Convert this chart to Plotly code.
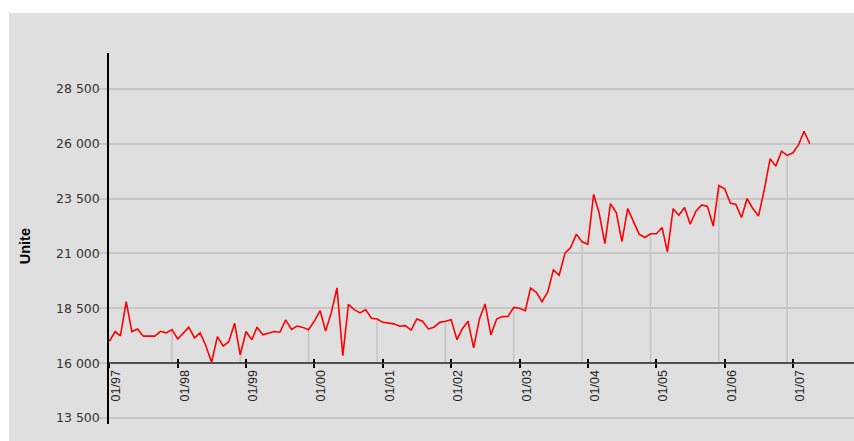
import pandas as pd
import plotly.graph_objects as go

# ---- data (monthly, Jan 1997 - Apr 2007) ----
start_month = "1997-01-01"
values = [
    17000, 17440, 17240, 18800, 17440, 17560, 17230, 17230, 17230, 17450, 17380, 17530,   # 1997
    17100, 17380, 17640, 17150, 17380, 16780, 16030, 17210, 16780, 16980, 17820, 16380,   # 1998
    17440, 17070, 17640, 17290, 17370, 17440, 17410, 17970, 17540, 17690, 17630, 17520,   # 1999
    17920, 18390, 17460, 18320, 19430, 16340, 18680, 18440, 18290, 18440, 18050, 18010,   # 2000
    17860, 17830, 17790, 17680, 17710, 17510, 18010, 17910, 17560, 17640, 17860, 17910,   # 2001
    17980, 17070, 17560, 17910, 16700, 18010, 18700, 17290, 18010, 18120, 18130, 18540,   # 2002
    18500, 18390, 19420, 19230, 18800, 19250, 20250, 20010, 21010, 21270, 21880, 21530,   # 2003
    21420, 23690, 22860, 21450, 23270, 22860, 21540, 23040, 22410, 21880, 21730, 21900,   # 2004
    21900, 22180, 21070, 23040, 22740, 23090, 22330, 22940, 23210, 23140, 22250, 24100,   # 2005
    23950, 23290, 23240, 22640, 23500, 23040, 22710, 23920, 25320, 24980, 25660, 25470,   # 2006
    25590, 25970, 26570, 26000,                                                           # 2007
]
months = pd.date_range(start_month, periods=len(values), freq="MS")

y_tick_values = [13500, 16000, 18500, 21000, 23500, 26000, 28500]
y_tick_labels = ["13 500", "16 000", "18 500", "21 000", "23 500", "26 000", "28 500"]
axis_cross = 16000
y_range = [13227, 30136]
x_range = ["1996-12-30", "2007-11-23"]
y_title = "Unite"

# ---- drop lines at each December point ----
drop_x, drop_y = [], []
for d, v in zip(months, values):
    if d.month == 12:
        drop_x += [d, d, None]
        drop_y += [v, axis_cross, None]

fig = go.Figure()
fig.add_trace(go.Scatter(x=drop_x, y=drop_y, mode="lines",
                         line=dict(color="#c4c4c4", width=1.5),
                         hoverinfo="skip", showlegend=False))
fig.add_trace(go.Scatter(x=months, y=values, mode="lines",
                         line=dict(color="#ff0000", width=1.6),
                         showlegend=False))
# invisible helper trace so the overlay axis (upper half of crossing ticks) is drawn
fig.add_trace(go.Scatter(x=[months[0]], y=[values[0]], xaxis="x2", mode="markers",
                         marker=dict(opacity=0), hoverinfo="skip", showlegend=False))

W, H = 854, 441
L, R, T, B = 109, 0, 53, 16.5
pw, ph = W - L - R, H - T - B

def px_x(p):
    return (p - L) / pw

def px_y(p):
    return (H - B - p) / ph

cross_pos = (axis_cross - y_range[0]) / (y_range[1] - y_range[0])

common_x = dict(
    type="date", range=x_range, anchor="free", position=cross_pos,
    showgrid=False, zeroline=False,
    tick0="1997-01-01", dtick="M12", tickwidth=1.5, tickcolor="#000000",
)

fig.update_layout(
    width=W, height=H,
    margin=dict(l=L, r=R, t=T, b=B, pad=0),
    paper_bgcolor="#dfdfdf",
    plot_bgcolor="#dfdfdf",
    hovermode=False,
    xaxis=dict(
        **common_x,
        showline=True, linecolor="#505050", linewidth=2,
        ticks="outside", ticklen=4,
        tickformat="%m/%y",
        tickangle=-90, ticklabelshift=7, ticklabelstandoff=-3,
        tickfont=dict(family="Liberation Sans, Arial", size=12.5, color="#222222"),
    ),
    xaxis2=dict(
        **common_x,
        overlaying="x", matches="x", side="bottom",
        showline=False, ticks="inside", ticklen=4, showticklabels=False,
    ),
    yaxis=dict(
        range=y_range,
        tickvals=y_tick_values, ticktext=y_tick_labels,
        showgrid=True, gridcolor="#c6c6c6", gridwidth=1.5,
        zeroline=False,
        showline=True, linecolor="#000000", linewidth=1.5,
        ticks="outside", ticklen=8, tickwidth=1.5, tickcolor="#c6c6c6",
        ticklabelstandoff=-3,
        tickfont=dict(family="DejaVu Sans", size=12.5, color="#333333"),
    ),
    annotations=[dict(
        text="<b>" + y_title + "</b>", xref="paper", yref="paper",
        x=px_x(25), y=px_y(246.5), xanchor="center", yanchor="middle",
        textangle=-90, showarrow=False,
        font=dict(family="Liberation Sans, Arial", size=14.5, color="#000000"),
    )],
    shapes=[
        dict(type="rect", xref="paper", yref="paper", layer="below",
             x0=px_x(-2), x1=px_x(9), y0=px_y(H + 2), y1=px_y(-2),
             fillcolor="#ffffff", line=dict(width=0)),
        dict(type="rect", xref="paper", yref="paper", layer="below",
             x0=px_x(-2), x1=px_x(W + 2), y0=px_y(13), y1=px_y(-2),
             fillcolor="#ffffff", line=dict(width=0)),
    ],
)

fig.write_html(
    "out.html",
    config={"displayModeBar": False},
    post_script="document.body.style.margin='0px';document.body.style.overflow='hidden';",
)
